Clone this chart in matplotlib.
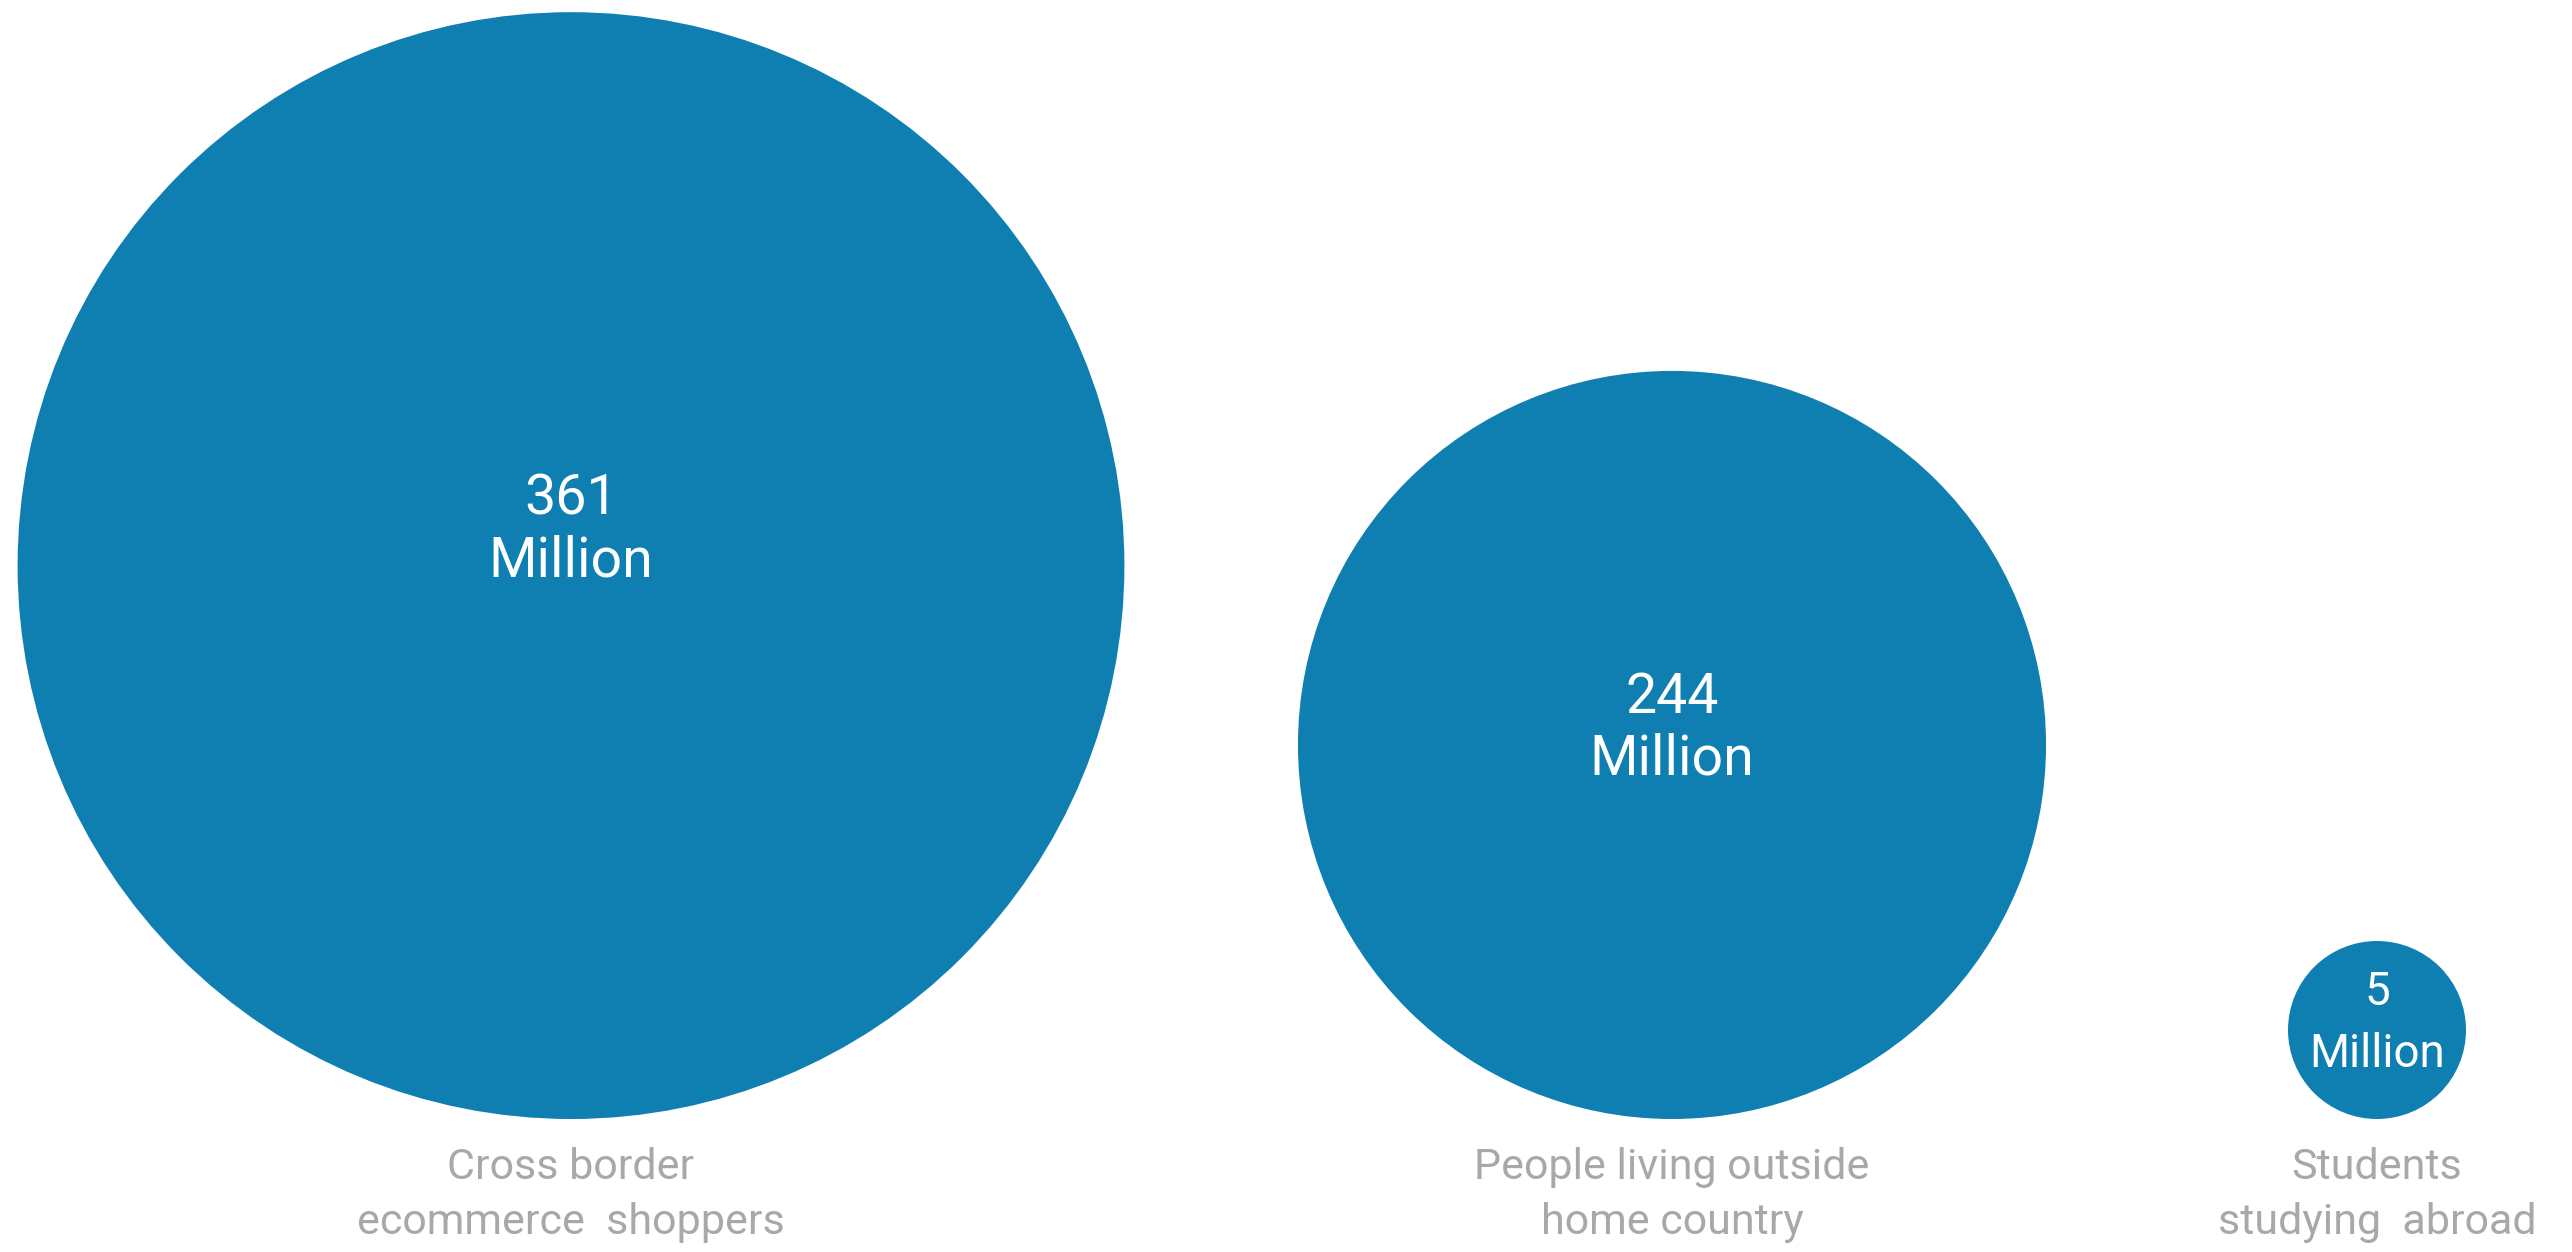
import matplotlib.pyplot as plt
from matplotlib.patches import Circle

# data
values = [361, 244, 5]
value_labels = ["361", "244", "5"]
unit = "Million"
categories = ["Cross border\necommerce  shoppers",
              "People living outside\nhome country",
              "Students\nstudying  abroad"]

# layout (pixel space of the 2572x1252 canvas)
centers_x = [571, 1672, 2377]
base_y = 1119          # all circles sit on the same bottom line
px_per_unit = 1.533
min_radius = 89
num_offset = [-51, -32, -25]   # baseline of number relative to circle centre
num_size = [40, 40, 33]

blue = "#0f7fb1"
grey = "#a7a9a9"
plt.rcParams['font.family'] = ['Roboto', 'DejaVu Sans']

fig = plt.figure(figsize=(25.72, 12.52), dpi=100)
ax = fig.add_axes([0, 0, 1, 1])
ax.set_xlim(0, 2572)
ax.set_ylim(1252, 0)
ax.set_aspect('equal')
ax.axis('off')

for i, v in enumerate(values):
    r = max(v * px_per_unit, min_radius)
    cx = centers_x[i]
    cy = base_y - r
    ax.add_patch(Circle((cx, cy), r, color=blue, lw=0))
    ax.text(cx, cy + num_offset[i], value_labels[i], color="white",
            fontsize=num_size[i], ha='center', va='baseline')
    ax.text(cx, cy + num_offset[i] + 62, unit, color="white",
            fontsize=num_size[i], ha='center', va='baseline')
    lines = categories[i].split("\n")
    for j, line in enumerate(lines):
        ax.text(cx, 1179 + j * 55, line, color=grey, fontsize=31,
                ha='center', va='baseline')

fig.savefig("out.png", dpi=100)
